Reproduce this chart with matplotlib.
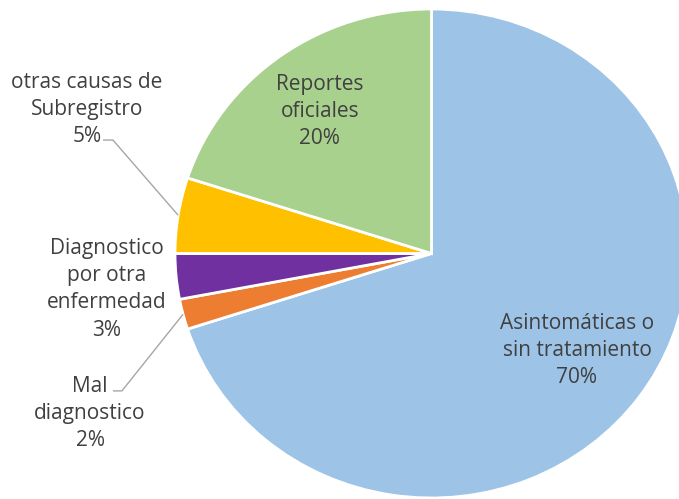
import matplotlib
matplotlib.use("Agg")
import matplotlib.pyplot as plt
import numpy as np

# Data
labels = ["Asintomáticas o\nsin tratamiento", "Mal\ndiagnostico",
          "Diagnostico\npor otra\nenfermedad", "otras causas de\nSubregistro",
          "Reportes\noficiales"]
values = [70, 2, 3, 5, 20]
colors = ["#9DC3E6", "#ED7D31", "#7030A0", "#FFC000", "#A9D18E"]

plt.rcParams["font.family"] = ["Open Sans", "DejaVu Sans"]
text_color = "#404040"
leader_color = "#A6A6A6"

fig = plt.figure(figsize=(6.79, 4.99), dpi=100)
ax = fig.add_axes([0, 0, 1, 1])

wedges, _ = ax.pie(values, colors=colors, startangle=90, counterclock=False,
                   wedgeprops=dict(edgecolor="white", linewidth=2))

# slightly wide pie, positioned toward the right
ax.set_aspect("auto")
ax.set_xlim(-1.6823, 0.9649)
ax.set_ylim(-1.0041, 1.0368)
ax.axis("off")

# label anchor positions (data units) for each slice
label_pos = [(0.567, -0.397), (-1.331, -0.655), (-1.265, -0.147),
             (-1.343, 0.588), (-0.435, 0.580)]

fs = 15
for w, lab, v, (x, y) in zip(wedges, labels, values, label_pos):
    ax.text(x, y, f"{lab}\n{v}%", ha="center", va="center", fontsize=fs,
            color=text_color, linespacing=1.38)

# leader lines for the two small outer labels
def wedge_edge(w):
    ang = np.deg2rad((w.theta1 + w.theta2) / 2)
    return np.cos(ang), np.sin(ang)

leaders = {3: ((-1.281, 0.464), (-1.242, 0.464)),
           1: ((-1.242, -0.562), (-1.207, -0.562))}
for idx, (p0, p1) in leaders.items():
    ex, ey = wedge_edge(wedges[idx])
    ax.plot([p0[0], p1[0], ex], [p0[1], p1[1], ey], color=leader_color,
            linewidth=1.0, solid_capstyle="butt")

fig.savefig("out.png", dpi=100)
